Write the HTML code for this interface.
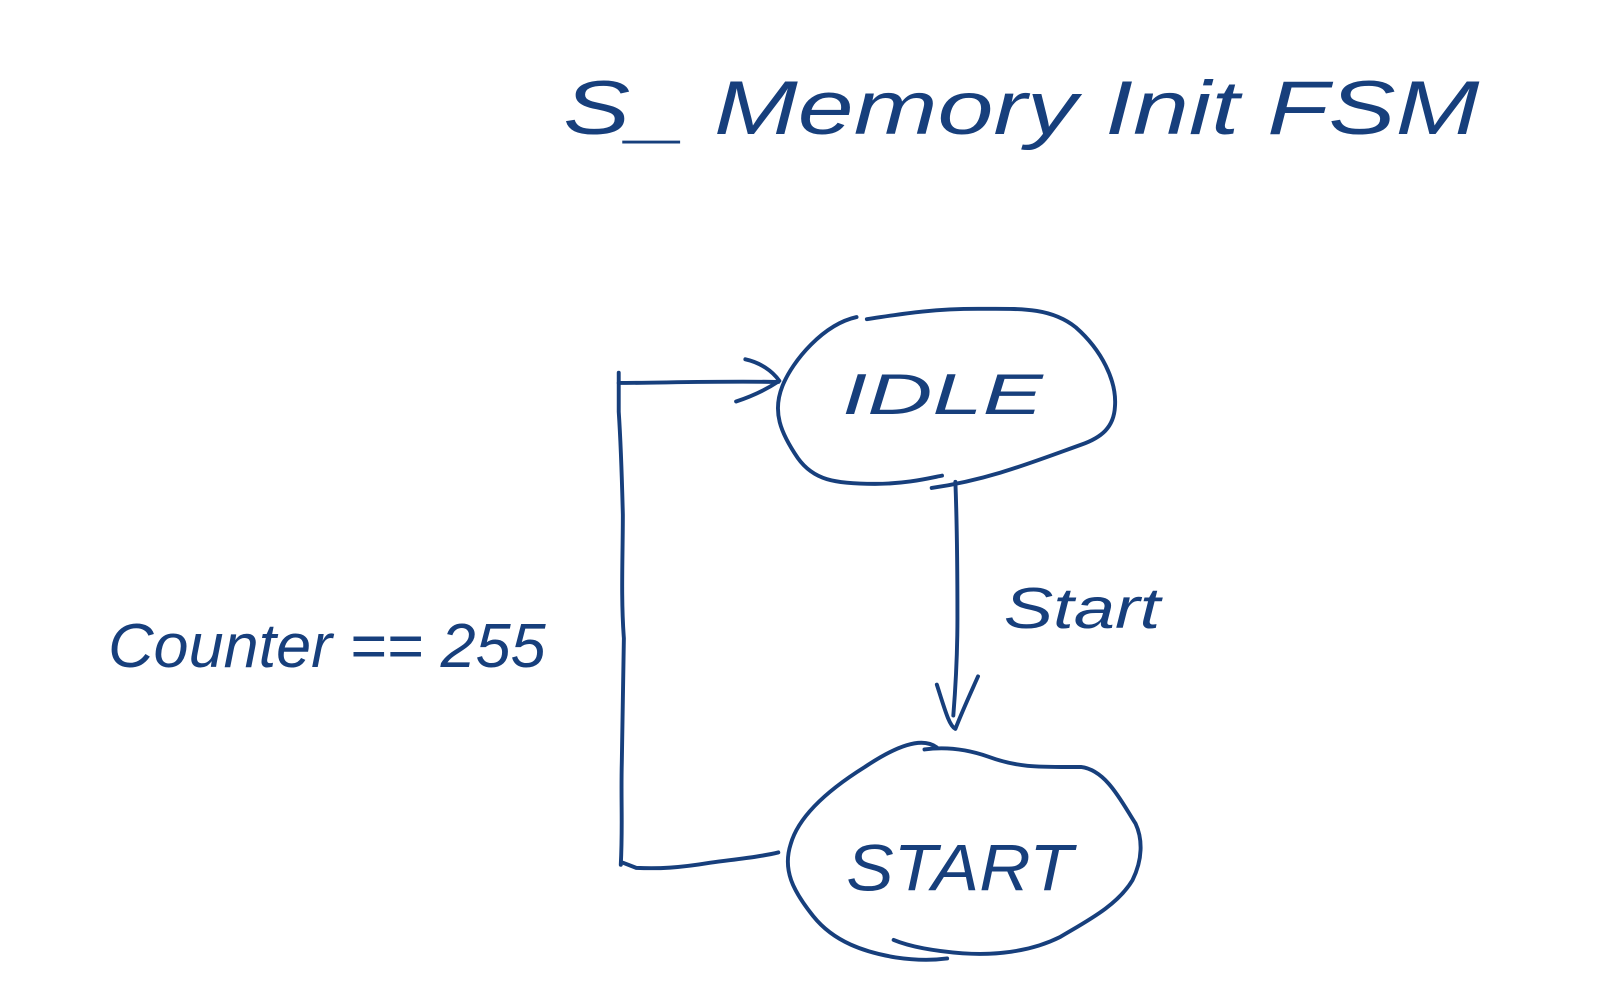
<!DOCTYPE html>
<html><head><meta charset="utf-8"><style>
html,body{margin:0;padding:0;background:#fff;}
svg{display:block;}
text{font-family:"Liberation Sans",sans-serif;fill:#173f7c;}
</style></head><body>
<svg width="1606" height="998" viewBox="0 0 1606 998" xmlns="http://www.w3.org/2000/svg">
<g transform="scale(1.0295)">
<g fill="none" stroke="#173f7c" stroke-width="3.8" stroke-linecap="round" stroke-linejoin="round">
<path d="M832 308 C800 315 770 350 760 375 C750 400 758 420 775 445 C790 466 810 470 850 470 C880 470 900 465 915 462"/>
<path d="M842 310 C870 306 900 300 950 300 C990 300 1020 298 1045 318 C1070 340 1085 370 1083 395 C1082 415 1070 425 1050 432 C1000 450 960 466 905 474"/>
<path d="M928 468 C930 520 930 560 930 600 C930 640 928 670 926 695"/>
<path d="M910 665 C918 690 922 705 928 708 C935 690 942 675 950 657"/>
<path d="M910 726 C895 715 870 725 840 745 C800 770 775 795 768 820 C760 845 770 865 790 890 C810 915 840 925 870 930 C890 933 905 933 920 931"/>
<path d="M898 728 C920 725 940 728 960 735 C990 746 1010 745 1050 745 C1075 748 1090 780 1103 800 C1110 815 1110 835 1100 855 C1085 880 1055 895 1030 910 C1000 925 965 928 935 926 C910 924 885 920 868 913"/>
<path d="M756 828 C740 832 720 834 690 838 C660 843 640 844 618 843 L605 838"/>
<path d="M603 840 C605 800 603 780 604 740 C605 700 605 660 606 620 C603 580 605 540 605 500 C604 460 603 430 601 400 L601 362"/>
<path d="M601 372 C640 372 690 370 756 371"/>
<path d="M724 349 C738 352 750 360 757 370 C745 378 730 385 715 390"/>
</g>
<text x="547" y="130" font-size="74" font-style="italic" textLength="890" lengthAdjust="spacingAndGlyphs">S_ Memory  Init  FSM</text>
<text x="818" y="402" font-size="56" font-style="italic" textLength="195" lengthAdjust="spacingAndGlyphs">IDLE</text>
<text x="822" y="865" font-size="64" font-style="italic" textLength="220" lengthAdjust="spacingAndGlyphs">START</text>
<text x="975" y="610" font-size="56" font-style="italic" textLength="152" lengthAdjust="spacingAndGlyphs">Start</text>
<text x="105" y="648" font-size="60" font-style="italic" textLength="425" lengthAdjust="spacingAndGlyphs">Counter == 255</text>
</g>
</svg>
</body></html>
